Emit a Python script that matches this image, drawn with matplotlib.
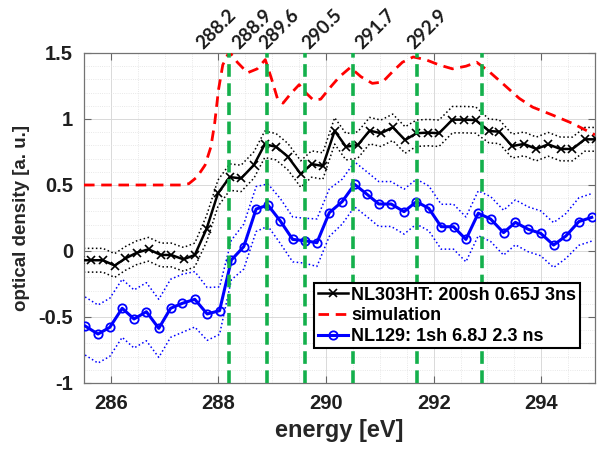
import matplotlib
matplotlib.use("Agg")
import matplotlib.pyplot as plt
import numpy as np

# NL303HT: 200sh 0.65J 3ns
e_black = [285.42, 285.63, 285.85, 286.07, 286.27, 286.48, 286.70, 286.93, 287.12,
           287.35, 287.56, 287.78, 287.99, 288.21, 288.42, 288.66, 288.86, 289.07,
           289.29, 289.53, 289.73, 289.94, 290.16, 290.37, 290.59, 290.81, 291.02,
           291.24, 291.47, 291.68, 291.89, 292.10, 292.35, 292.57, 292.78, 293.03,
           293.22, 293.46, 293.68, 293.91, 294.13, 294.36, 294.58, 294.81, 295.02]
od_black = [-0.07, -0.07, -0.07, -0.11, -0.056, -0.013, 0.013, -0.03, -0.03,
            -0.063, -0.03, 0.17, 0.437, 0.56, 0.55, 0.652, 0.808, 0.79,
            0.715, 0.583, 0.659, 0.644, 0.91, 0.79, 0.803, 0.912, 0.892,
            0.937, 0.841, 0.892, 0.897, 0.892, 0.995, 0.995, 0.992, 0.909,
            0.904, 0.795, 0.811, 0.773, 0.808, 0.773, 0.773, 0.846, 0.846]
err_black = [0.09, 0.09, 0.09, 0.09, 0.09, 0.09, 0.09, 0.09, 0.09,
             0.09, 0.09, 0.1, 0.1, 0.1, 0.1, 0.1, 0.1, 0.1,
             0.1, 0.1, 0.1, 0.1, 0.1, 0.1, 0.1, 0.1, 0.1,
             0.1, 0.1, 0.1, 0.1, 0.1, 0.1, 0.1, 0.1, 0.09,
             0.09, 0.09, 0.09, 0.09, 0.09, 0.09, 0.09, 0.09, 0.09]

# NL129: 1sh 6.8J 2.3 ns
e_blue = [285.52, 285.76, 285.98, 286.21, 286.43, 286.66, 286.89, 287.11, 287.33,
          287.56, 287.79, 288.02, 288.24, 288.47, 288.70, 288.92, 289.15, 289.38,
          289.60, 289.83, 290.06, 290.30, 290.53, 290.76, 290.98, 291.21, 291.45,
          291.68, 291.91, 292.14, 292.37, 292.60, 292.83, 293.06, 293.30, 293.52,
          293.76, 293.99, 294.23, 294.46, 294.70, 294.94]
od_blue = [-0.568, -0.629, -0.578, -0.434, -0.515, -0.46, -0.586, -0.434, -0.396,
           -0.366, -0.477, -0.452, -0.068, 0.033, 0.318, 0.348, 0.227, 0.088,
           0.078, 0.063, 0.29, 0.374, 0.505, 0.43, 0.356, 0.356, 0.298,
           0.374, 0.323, 0.184, 0.184, 0.088, 0.286, 0.242, 0.139, 0.217,
           0.164, 0.134, 0.045, 0.114, 0.223, 0.255]
err_blue = [0.22, 0.22, 0.22, 0.22, 0.22, 0.22, 0.22, 0.22, 0.22,
            0.21, 0.2, 0.18, 0.15, 0.17, 0.17, 0.16, 0.17, 0.17,
            0.17, 0.18, 0.18, 0.17, 0.17, 0.17, 0.17, 0.17, 0.17,
            0.17, 0.17, 0.17, 0.17, 0.17, 0.17, 0.17, 0.17, 0.17,
            0.17, 0.17, 0.17, 0.17, 0.18, 0.18]

# simulation
e_sim = [285.5, 287.3, 287.45, 287.6, 287.75, 287.86, 287.93, 288.0, 288.08, 288.2,
         288.35, 288.54, 288.72, 288.87, 288.99, 289.1, 289.2, 289.34, 289.5, 289.62,
         289.76, 289.9, 290.1, 290.25, 290.45, 290.65, 290.86, 291.05, 291.24, 291.42,
         291.62, 291.85, 292.1, 292.35, 292.6, 292.8, 293.03, 293.28, 293.59, 293.84,
         294.21, 294.58, 295.0]
od_sim = [0.5, 0.5, 0.51, 0.56, 0.65, 0.79, 0.97, 1.22, 1.41, 1.51,
          1.43, 1.35, 1.38, 1.45, 1.30, 1.15, 1.12, 1.19, 1.26, 1.2,
          1.145, 1.15, 1.25, 1.32, 1.39, 1.32, 1.27, 1.28, 1.36, 1.43,
          1.47, 1.45, 1.41, 1.38, 1.40, 1.43, 1.36, 1.27, 1.157, 1.09,
          1.03, 0.967, 0.88]

peaks = [288.2, 288.9, 289.6, 290.5, 291.7, 292.9]
peak_labels = ['288.2', '288.9', '289.6', '290.5', '291.7', '292.9']
label_x = [287.71, 288.39, 288.88, 289.69, 290.68, 291.64]

xtick_vals = [286, 288, 290, 292, 294]
ytick_vals = [-1, -0.5, 0, 0.5, 1, 1.5]
ytick_labels = ['-1', '-0.5', '0', '0.5', '1', '1.5']

plt.rcParams['font.family'] = ['Liberation Sans', 'DejaVu Sans']
fig = plt.figure(figsize=(6.06, 4.54), dpi=100)
ax = fig.add_axes([84 / 606, 71 / 454, 511 / 606, 330 / 454])

eb = np.array(od_black)
sb = np.array(err_black)
ax.plot(e_black, eb + sb, ':', color='k', lw=1.1, zorder=2)
ax.plot(e_black, eb - sb, ':', color='k', lw=1.1, zorder=2)
l1, = ax.plot(e_black, od_black, '-x', color='k', lw=1.8, ms=5.5, mew=1.2, zorder=3,
              label='NL303HT: 200sh 0.65J 3ns')

l2, = ax.plot(e_sim, od_sim, color='red', lw=2, linestyle=(0, (3.8, 2.4)), zorder=3,
              label='simulation')

ob = np.array(od_blue)
sbl = np.array(err_blue)
ax.plot(e_blue, ob + sbl, ':', color='blue', lw=1.1, zorder=2)
ax.plot(e_blue, ob - sbl, ':', color='blue', lw=1.1, zorder=2)
l3, = ax.plot(e_blue, od_blue, '-o', color='blue', lw=2.2, ms=6, mew=1.3,
              mfc='none', zorder=3, label='NL129: 1sh 6.8J 2.3 ns')

for p in peaks:
    ax.axvline(p, color='#14b04c', lw=2.6, linestyle=(0, (3.5, 1.8)), zorder=4)
for lx, lab in zip(label_x, peak_labels):
    ax.text(lx, 1.525, lab, rotation=45, rotation_mode='anchor', ha='left',
            va='baseline', fontsize=13.5, fontweight='bold', color='0.1',
            family=['Lato', 'DejaVu Sans'], clip_on=False)

ax.set_xlim(285.5, 295.0)
ax.set_ylim(-1, 1.5)
ax.set_xticks(xtick_vals)
ax.set_xticklabels([str(v) for v in xtick_vals])
ax.set_yticks(ytick_vals)
ax.set_yticklabels(ytick_labels)
ax.set_xticks(np.arange(285.5, 295.01, 0.5), minor=True)
ax.set_yticks(np.arange(-1, 1.501, 0.1), minor=True)
ax.tick_params(which='major', direction='in', length=5, width=0.8, top=True, right=True,
               labelsize=14.5, colors='0.4', labelcolor='0.12', pad=8)
ax.tick_params(which='minor', length=0, top=True, right=True)
for lab in ax.get_xticklabels() + ax.get_yticklabels():
    lab.set_fontweight('bold')
ax.grid(which='major', color='0.85', lw=0.7)
ax.grid(which='minor', color='0.88', lw=0.6, linestyle=':')
ax.set_axisbelow(True)
for s in ax.spines.values():
    s.set_color('0.45')
    s.set_linewidth(0.9)

ax.set_xlabel('energy [eV]', fontsize=17, fontweight='bold', color='0.15', labelpad=4)
ax.set_ylabel('optical density [a. u.]', fontsize=13.5, fontweight='bold', color='0.15',
              labelpad=6)

leg = ax.legend(handles=[l1, l2, l3], loc='upper left', bbox_to_anchor=(0.45, 0.303),
                borderaxespad=0, fancybox=False, edgecolor='k', framealpha=1,
                prop={'weight': 'bold', 'size': 13}, handlelength=1.7,
                handletextpad=0.15, borderpad=0.2, labelspacing=0.2)
leg.get_frame().set_linewidth(1.5)
leg.set_zorder(10)

fig.savefig('out.png', dpi=100)
